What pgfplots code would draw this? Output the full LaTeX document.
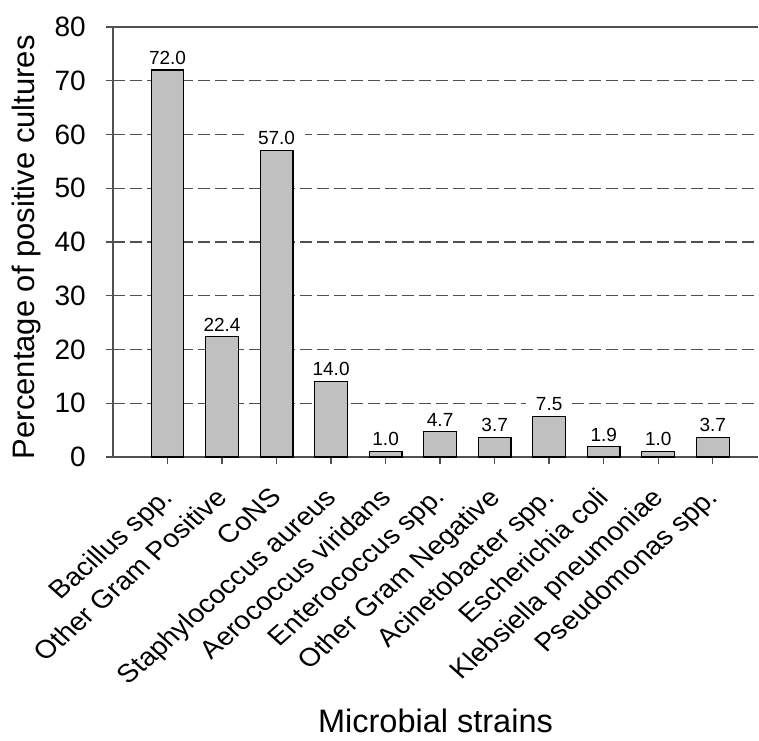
\documentclass[border=0pt]{standalone}
\usepackage{pgfplots}
\pgfplotsset{compat=1.18}
\usepackage{fontspec}
\setmainfont{Liberation Sans}
\definecolor{barfill}{HTML}{C0C0C0}
\definecolor{linegray}{HTML}{505050}
\begin{document}
\begin{tikzpicture}
\path[use as bounding box] (-113pt,-283pt) rectangle (646pt,457pt);
\begin{axis}[
  scale only axis, width=645pt, height=430pt,
  at={(0,0)}, anchor=south west,
  xmin=-1, xmax=10.83, ymin=0, ymax=80,
  clip=false,
  axis x line*=bottom, axis y line*=left,
  axis line style={draw=linegray, line width=1.4pt},
  tick align=outside, major tick length=7pt,
  tick style={draw=linegray, line width=1.4pt},
  /pgf/number format/assume math mode=true,
  ytick={10,20,30,40,50,60,70},
  extra y ticks={0,80},
  extra y tick style={grid=major, major grid style={draw=linegray, line width=1.4pt, solid}},
  ymajorgrids,
  major grid style={draw=linegray, line width=1.3pt, dash pattern=on 12pt off 5pt},
  yticklabel style={font=\fontsize{28}{32}\selectfont, xshift=-20pt, anchor=east, inner sep=0pt},
  xtick={0,...,10},
  xticklabels={Bacillus spp., Other Gram Positive, CoNS, Staphylococcus aureus, Aerococcus viridans, Enterococcus spp., Other Gram Negative, Acinetobacter spp., Escherichia coli, Klebsiella pneumoniae, Pseudomonas spp.},
  xticklabel style={font=\fontsize{25.5}{28}\selectfont, xshift=-8pt, yshift=-22pt, xscale=1.12, rotate=45, anchor=north east, inner sep=0pt},
  every axis y label/.style={at={(axis description cs:-0.1217,0.488)}, rotate=90, anchor=base, font=\fontsize{31}{34}\selectfont},
  every axis x label/.style={at={(axis description cs:0.5,-0.640)}, anchor=base, font=\fontsize{32.5}{34}\selectfont},
  ylabel={Percentage of positive cultures},
  xlabel={Microbial strains},
  ybar, bar width=0.6,
  nodes near coords={\pgfmathprintnumber[fixed,fixed zerofill,precision=1]{\pgfplotspointmeta}},
  every node near coord/.append style={font=\fontsize{19}{21}\selectfont, fill=white, inner xsep=10pt, inner ysep=2pt, anchor=south, yshift=3pt},
]
\addplot[fill=barfill, draw=black, line width=1.2pt] coordinates {
  (0,72.0) (1,22.4) (2,57.0) (3,14.0) (4,1.0) (5,4.7) (6,3.7) (7,7.5) (8,1.9) (9,1.0) (10,3.7)
};
\end{axis}
\end{tikzpicture}
\end{document}
